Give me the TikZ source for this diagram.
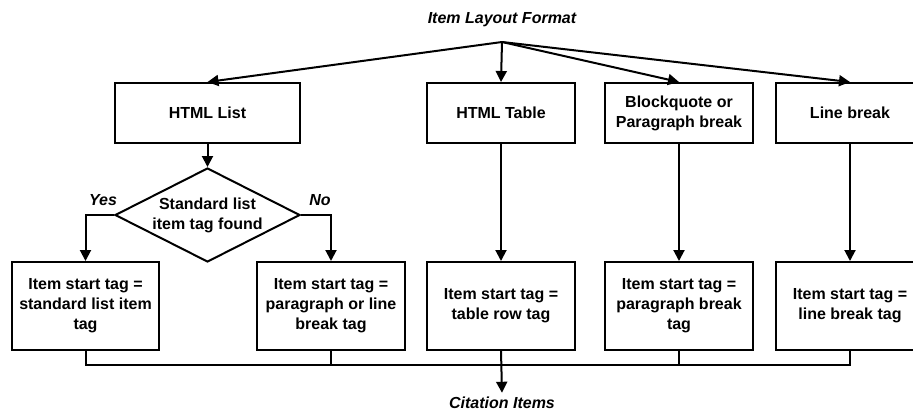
\documentclass[tikz,border=0pt]{standalone}
\usepackage{fontspec}
\setmainfont{Liberation Sans}
\usetikzlibrary{arrows.meta,shapes.geometric}

\begin{document}
\begin{tikzpicture}[x=1pt,y=-1pt,line width=2pt,
        every node/.style={font=\fontsize{16}{20}\selectfont\bfseries, align=center},
        box/.style={shape=rectangle,draw=black,inner sep=0pt,minimum height=60pt},
        tagbox/.style={shape=rectangle,draw=black,inner sep=0pt,minimum width=148pt,minimum height=88pt},
        dec/.style={shape=diamond,aspect=2,draw=black,inner sep=0pt,minimum width=185pt,minimum height=94pt},
        lab/.style={font=\fontsize{16}{20}\selectfont\bfseries\itshape},
        arr/.style={-{Triangle[length=11pt,width=11pt]}}]
    \useasboundingbox (0,0) rectangle (913,413);

    \node[lab] (ILF) at (502,20) {Item Layout Format};
    \coordinate (FAN) at (502,42);

    \node[box,minimum width=185pt] (HL) at (207.5,113) {HTML List};
    \node[box,minimum width=148pt] (HT) at (501,113) {HTML Table};
    \node[box,minimum width=148pt] (BQ) at (679,113) {Blockquote or\\Paragraph break};
    \node[box,minimum width=148pt] (LB) at (850,113) {Line break};

    \node[dec] (SL) at (207.5,215) {Standard list\\item tag found};
    \node[lab] (YES) at (103,200) {Yes};
    \node[lab] (NO)  at (320,200) {No};

    \node[tagbox,minimum width=147pt] (T1) at (85.5,306) {Item start tag =\\standard list item\\tag};
    \node[tagbox] (T2) at (331,306) {Item start tag =\\paragraph or line\\break tag};
    \node[tagbox] (T3) at (501,306) {Item start tag =\\table row tag};
    \node[tagbox] (T4) at (679,306) {Item start tag =\\paragraph break\\tag};
    \node[tagbox] (T5) at (850,306) {Item start tag =\\line break tag};

    \coordinate (BUS) at (501,365);
    \node[lab] (CI) at (502,403) {Citation Items};

    \path [arr] (FAN) edge (HL.north);
    \path [arr] (FAN) edge (HT.north);
    \path [arr] (FAN) edge (BQ.north);
    \path [arr] (FAN) edge (LB.north);

    \path [arr] (HL.south) edge (SL.north);
    \draw [arr] (SL.west) -| (T1.north);
    \draw [arr] (SL.east) -| (T2.north);
    \path [arr] (HT.south) edge (T3.north);
    \path [arr] (BQ.south) edge (T4.north);
    \path [arr] (LB.south) edge (T5.north);

    \draw (T1.south) |- (BUS) -| (T5.south);
    \draw (T2.south) -- (T2.south |- BUS);
    \draw (T4.south) -- (T4.south |- BUS);
    \path [arr] (T3.south) edge (CI.north);
\end{tikzpicture}
\end{document}
